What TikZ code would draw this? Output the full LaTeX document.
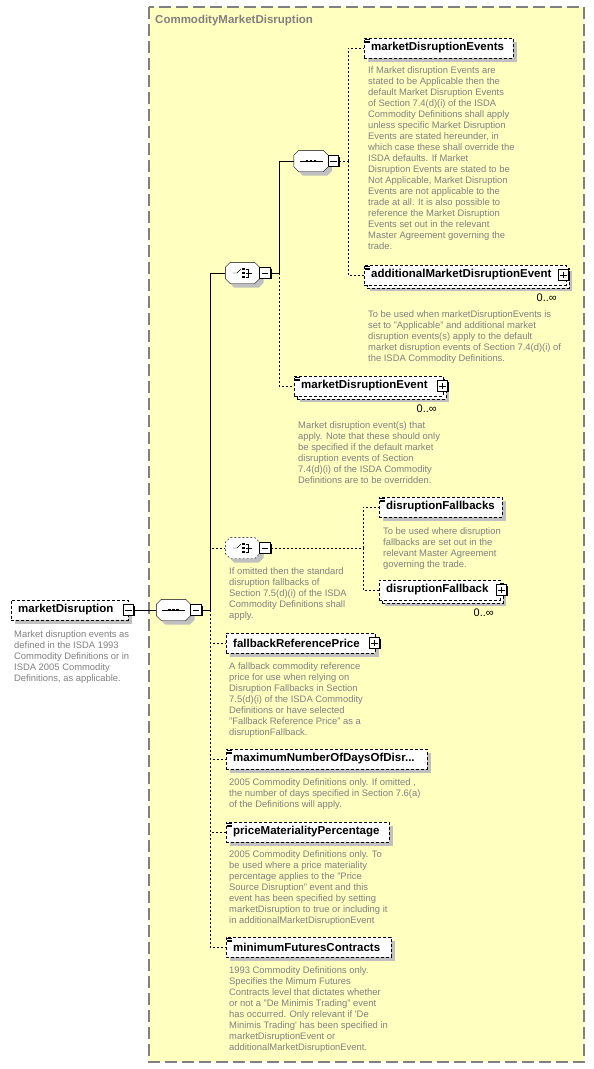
\documentclass[tikz,border=0pt]{standalone}
\usepackage{fontspec}
\setmainfont{Liberation Sans}

\definecolor{boxyellow}{RGB}{255,255,192}
\definecolor{framegray}{RGB}{128,128,128}
\definecolor{descgray}{RGB}{128,128,128}
\definecolor{shadegray}{RGB}{192,192,192}

\newcommand\namefont{\fontsize{11.5}{13}\selectfont\bfseries}
\newcommand\descfont{\fontsize{9.4}{11}\selectfont}
\hyphenpenalty=10000
\exhyphenpenalty=10000

\tikzset{
  base/.style={draw, dash pattern=on 3pt off 2pt, fill=white, font=\namefont,
    anchor=west, minimum height=20pt, inner xsep=7pt, inner ysep=0pt, align=left},
  elem/.style={base, text width=#1,
    preaction={fill=shadegray, draw=none, transform canvas={xshift=4pt,yshift=-4pt}}},
  multi/.style={base, text width=#1,
    preaction={fill=shadegray, draw=none, transform canvas={xshift=6pt,yshift=-6pt}},
    preaction={draw, fill=white, dash pattern=on 3pt off 2pt, transform canvas={xshift=3pt,yshift=-3pt}}},
  docmark/.style={path picture={
    \foreach \d in {1.5,3,4.5}
      \draw[solid, line width=.6pt] ([shift={(1pt,-\d pt)}]path picture bounding box.north west) -- ++(5pt,0pt);
  }},
  togm/.style={draw, solid, fill=white, line width=1pt, minimum size=10.5pt, inner sep=0pt,
    preaction={fill=black, draw=none, transform canvas={xshift=1.2pt,yshift=-1.2pt}},
    path picture={
      \draw[line width=.9pt] ([xshift=2pt]path picture bounding box.west) -- ([xshift=-2pt]path picture bounding box.east);
    }},
  togp/.style={togm,
    path picture={
      \draw[line width=.9pt] ([xshift=2pt]path picture bounding box.west) -- ([xshift=-2pt]path picture bounding box.east);
      \draw[line width=.9pt] ([yshift=-2pt]path picture bounding box.north) -- ([yshift=2pt]path picture bounding box.south);
    }},
  comp/.style={minimum width=34pt, minimum height=21pt, inner sep=0pt},
  octpath/.style={insert path={([xshift=5pt]#1.north west) -- ([xshift=-5pt]#1.north east)
    -- ([yshift=-5pt]#1.north east) -- ([yshift=5pt]#1.south east) -- ([xshift=-5pt]#1.south east)
    -- ([xshift=5pt]#1.south west) -- ([yshift=5pt]#1.south west) -- ([yshift=-5pt]#1.north west) -- cycle}},
  opt/.style={dash pattern=on 2pt off 2pt},
  desc/.style={anchor=north west, inner sep=0pt, align=left, text=descgray, font=\descfont},
  occurs/.style={anchor=east, inner sep=0pt, font=\fontsize{11}{12}\selectfont}
}

\begin{document}
\begin{tikzpicture}[x=1pt,y=-1pt]

  \useasboundingbox (0,0) rectangle (594,1069);
  \fill[white] (0,0) rectangle (594,1069);

  % Complex type frame
  \draw[draw=framegray, fill=boxyellow, line width=1.3pt, dash pattern=on 12pt off 5pt] (149,7) rectangle (584,1062);
  \node[anchor=base west, inner sep=0pt, font=\namefont, text=framegray] (title) at (155,23) {CommodityMarketDisruption};

  % Root element
  \node[elem=103pt] (md) at (11,610) {marketDisruption};
  \node[togm] (mdtog) at (md.east) {};
  \node[desc] (mddesc) at (14,630) {Market disruption events as\\defined in the ISDA 1993\\Commodity Definitions or in\\ISDA 2005 Commodity\\Definitions, as applicable.};

  % Compositors
  \node[comp] (seqa) at (173.5,610) {};
  \node[comp] (cha) at (242.5,273) {};
  \node[comp] (seqb) at (311,161) {};
  \node[comp] (chb) at (242.5,548) {};

  \foreach \n/\s in {seqa/solid, cha/solid, seqb/solid, chb/opt} {
    \fill[shadegray, transform canvas={xshift=4pt,yshift=-4pt}, octpath=\n];
    \draw[fill=white, \s, octpath=\n];
  }

  % Sequence marks
  \foreach \n in {seqa, seqb} {
    \draw (\n.center) +(-11.5,0) -- +(11.5,0);
    \foreach \d in {-4,0,4}
      \fill ([xshift=\d pt]\n.center) +(-1.4,-1.4) rectangle +(1.4,1.4);
  }

  % Choice marks
  \foreach \n in {cha, chb} {
    \draw ([xshift=-10pt]\n.center) -- ([xshift=-5.5pt]\n.center) -- ([shift={(-1.5pt,4pt)}]\n.center);
    \foreach \d in {-4,0,4}
      \fill ([shift={(1pt,\d pt)}]\n.center) +(-1.3,-1.3) rectangle +(1.3,1.3);
    \draw ([shift={(3.5pt,4pt)}]\n.center) -- ([shift={(5.5pt,4pt)}]\n.center) -- ([shift={(5.5pt,-4pt)}]\n.center)
      -- ([shift={(3.5pt,-4pt)}]\n.center) ([shift={(3.5pt,0pt)}]\n.center) -- ([shift={(9pt,0pt)}]\n.center);
  }

  \node[togm] (seqatog) at ([xshift=5.5pt]seqa.east) {};
  \node[togm] (chatog) at ([xshift=5.5pt]cha.east) {};
  \node[togm] (seqbtog) at ([xshift=5.5pt]seqb.east) {};
  \node[togm] (chbtog) at ([xshift=5.5pt]chb.east) {};
  \node[desc] (chbdesc) at (229,567) {If omitted then the standard\\disruption fallbacks of\\Section 7.5(d)(i) of the ISDA\\Commodity Definitions shall\\apply.};

  % Junctions
  \coordinate (ja) at (210,610);
  \coordinate (jb) at (279,273);
  \coordinate (jc) at (348,161);
  \coordinate (jd) at (363,548);

  % Market disruption events
  \node[elem=135pt, docmark] (mdes) at (364,48) {marketDisruptionEvents};
  \node[desc] (mdesdesc) at (368,66) {If Market disruption Events are\\stated to be Applicable then the\\default Market Disruption Events\\of Section 7.4(d)(i) of the ISDA\\Commodity Definitions shall apply\\unless specific Market Disruption\\Events are stated hereunder, in\\which case these shall override the\\ISDA defaults. If Market\\Disruption Events are stated to be\\Not Applicable, Market Disruption\\Events are not applicable to the\\trade at all. It is also possible to\\reference the Market Disruption\\Events set out in the relevant\\Master Agreement governing the\\trade.};

  \node[multi=188pt, docmark] (amde) at (364,275) {additionalMarketDisruptionEvent};
  \node[togp] (amdetog) at ([xshift=-3pt]amde.east) {};
  \node[occurs] (amdeocc) at (557,298) {0..∞};
  \node[desc] (amdedesc) at (368,310) {To be used when marketDisruptionEvents is\\set to "Applicable" and additional market\\disruption events(s) apply to the default\\market disruption events of Section 7.4(d)(i) of\\the ISDA Commodity Definitions.};

  \node[multi=135pt, docmark] (mde) at (294,386) {marketDisruptionEvent};
  \node[togp] (mdetog) at ([xshift=-1pt]mde.east) {};
  \node[occurs] (mdeocc) at (437,409) {0..∞};
  \node[desc] (mdedesc) at (298,421) {Market disruption event(s) that\\apply. Note that these should only\\be specified if the default market\\disruption events of Section\\7.4(d)(i) of the ISDA Commodity\\Definitions are to be overridden.};

  % Disruption fallbacks
  \node[elem=109pt, docmark] (dfs) at (379,507) {disruptionFallbacks};
  \node[desc] (dfsdesc) at (383,527) {To be used where disruption\\fallbacks are set out in the\\relevant Master Agreement\\governing the trade.};

  \node[multi=107pt] (df) at (379,590) {disruptionFallback};
  \node[togp] (dftog) at ([xshift=1pt]df.east) {};
  \node[occurs] (dfocc) at (494,613) {0..∞};

  % Remaining elements of the sequence
  \node[elem=135pt] (frp) at (226,643) {fallbackReferencePrice};
  \node[togp] (frptog) at ([xshift=-1pt]frp.east) {};
  \node[desc] (frpdesc) at (229,662) {A fallback commodity reference\\price for use when relying on\\Disruption Fallbacks in Section\\7.5(d)(i) of the ISDA Commodity\\Definitions or have selected\\"Fallback Reference Price" as a\\disruptionFallback.};

  \node[elem=187pt, docmark] (mnd) at (226,759) {maximumNumberOfDaysOfDisr...};
  \node[desc] (mnddesc) at (229,778) {2005 Commodity Definitions only. If omitted ,\\the number of days specified in Section 7.6(a)\\of the Definitions will apply.};

  \node[elem=149pt, docmark] (pmp) at (226,832) {priceMaterialityPercentage};
  \node[desc] (pmpdesc) at (229,850) {2005 Commodity Definitions only. To\\be used where a price materiality\\percentage applies to the "Price\\Source Disruption" event and this\\event has been specified by setting\\marketDisruption to true or including it\\in additionalMarketDisruptionEvent};

  \node[elem=151pt, docmark] (mfc) at (226,947) {minimumFuturesContracts};
  \node[desc] (mfcdesc) at (229,966) {1993 Commodity Definitions only.\\Specifies the Mimum Futures\\Contracts level that dictates whether\\or not a "De Minimis Trading" event\\has occurred. Only relevant if \textquotesingle De\\Minimis Trading\textquotesingle{} has been specified in\\marketDisruptionEvent or\\additionalMarketDisruptionEvent.};

  % Connectors
  \draw (mdtog.east) -- (seqa.west);
  \draw (seqatog.east) -- (ja);
  \draw (ja) |- (cha.west);
  \draw[opt] (ja) |- (chb.west);
  \draw[opt] (ja) |- (frp.west);
  \draw[opt] (ja) |- (mnd.west);
  \draw[opt] (ja) |- (pmp.west);
  \draw[opt] (ja) |- (mfc.west);

  \draw (chatog.east) -- (jb);
  \draw (jb) |- (seqb.west);
  \draw[opt] (jb) |- (mde.west);

  \draw[opt] (seqbtog.east) -- (jc);
  \draw[opt] (jc) |- (mdes.west);
  \draw[opt] (jc) |- (amde.west);

  \draw[opt] (chbtog.east) -- (jd);
  \draw[opt] (jd) |- (dfs.west);
  \draw[opt] (jd) |- (df.west);

\end{tikzpicture}
\end{document}
